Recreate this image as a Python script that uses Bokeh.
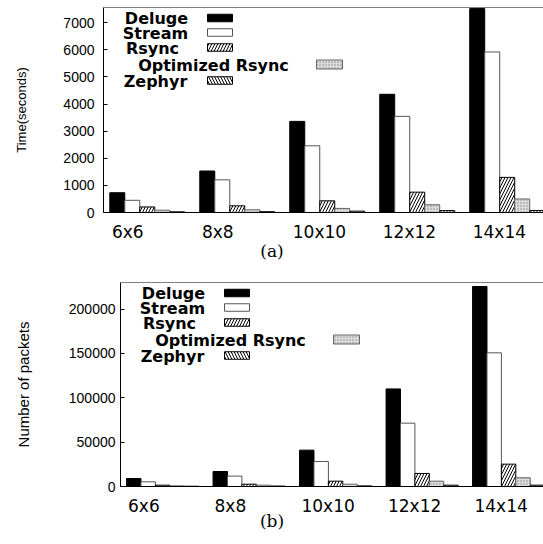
import math
from bokeh.plotting import figure
from bokeh.models import FixedTicker, Range1d, Span, BasicTickFormatter, Title
from bokeh.core.properties import value
from bokeh.embed import file_html
from bokeh.resources import INLINE

# ---------------- data ----------------
categories = ["6x6", "8x8", "10x10", "12x12", "14x14"]
series_names = ["Deluge", "Stream", "Rsync", "Optimized Rsync", "Zephyr"]

# (a) completion time, seconds
deluge_time = [730, 1530, 3360, 4360, 7520]
stream_time = [450, 1205, 2460, 3545, 5920]
rsync_time = [205, 247, 430, 750, 1295]
opt_rsync_time = [85, 100, 150, 285, 500]
zephyr_time = [25, 30, 50, 70, 75]
time_ticks = [0, 1000, 2000, 3000, 4000, 5000, 6000, 7000]

# (b) number of packets
deluge_pkts = [9000, 16900, 41000, 110000, 225500]
stream_pkts = [5300, 11700, 28200, 71400, 150700]
rsync_pkts = [1500, 2600, 6000, 14700, 25200]
opt_rsync_pkts = [750, 1500, 2600, 6000, 9800]
zephyr_pkts = [300, 500, 700, 1500, 1500]
pkt_ticks = [0, 50000, 100000, 150000, 200000]

# ---------------- styles ----------------
styles = [
    dict(fill_color="black", line_color="black"),
    dict(fill_color="white", line_color="#555555"),
    dict(fill_color="white", line_color="black", hatch_pattern="/",
         hatch_color="black", hatch_scale=6, hatch_weight=1),
    dict(fill_color="#dcdcdc", line_color="#666666", hatch_pattern=".",
         hatch_color="#8a8a8a", hatch_scale=3),
    dict(fill_color="white", line_color="black", hatch_pattern="\\",
         hatch_color="black", hatch_scale=6, hatch_weight=1),
]

X0, X1 = -0.07, 4.82


def make_chart(series, y_max, ticks, ytitle, ytitle_size, ytitle_standoff,
               caption, cap_width, cap_standoff, fig_h, b_top, b_bottom,
               b_left, standoff):
    p = figure(width=543, height=fig_h, output_backend="svg",
               toolbar_location=None,
               x_range=Range1d(X0, X1), y_range=Range1d(0, y_max),
               min_border_left=b_left, min_border_right=0,
               min_border_top=b_top, min_border_bottom=b_bottom)
    p.outline_line_color = None
    p.background_fill_color = "white"
    p.border_fill_color = "white"
    p.grid.visible = False

    frame_w = 543 - b_left
    frame_h = fig_h - b_top - b_bottom

    def fx(px):
        return X0 + px / frame_w * (X1 - X0)

    def fy(py):
        return y_max * (1 - py / frame_h)

    n = len(series)
    bw = 1.0 / (n + 1)
    for k, (vals, st) in enumerate(zip(series, styles)):
        xs = [i + (k + 0.5) * bw for i in range(len(categories))]
        p.vbar(x=xs, top=vals, bottom=0, width=bw, line_width=1, **st)

    # legend (text left, swatch right)
    rows = [10.5, 25, 40, 57, 73]
    centers = [53, 52, 49, 110, 52]
    for k, name in enumerate(series_names):
        p.text(x=[fx(centers[k])], y=[fy(rows[k] + 0.5)], text=[name],
               text_font=value("DejaVu Sans"), text_font_style="bold",
               text_font_size="16px", text_align="center",
               text_baseline="middle", text_color="black")
        bx0 = 213 if k == 3 else 104
        bwp = 26 if k == 3 else 25
        bh = 9 if k == 3 else 7.5
        p.quad(left=[fx(bx0)], right=[fx(bx0 + bwp)],
               top=[fy(rows[k] - bh / 2)], bottom=[fy(rows[k] + bh / 2)],
               line_width=1, **styles[k])

    # top border of frame
    p.add_layout(Span(location=y_max, dimension="width",
                      line_color="black", line_width=1))

    # y axis
    ya = p.yaxis[0]
    ya.ticker = FixedTicker(ticks=ticks)
    ya.formatter = BasicTickFormatter(use_scientific=False)
    ya.major_tick_in = 4
    ya.major_tick_out = 0
    ya.minor_tick_line_color = None
    ya.axis_line_color = "black"
    ya.major_tick_line_color = "black"
    ya.major_label_standoff = standoff
    ya.major_label_text_font = "Liberation Sans"
    ya.major_label_text_font_size = "14px"
    ya.major_label_text_color = "black"
    ya.axis_label = ytitle
    ya.axis_label_standoff = ytitle_standoff
    ya.axis_label_text_font = "Liberation Sans"
    ya.axis_label_text_font_size = ytitle_size
    ya.axis_label_text_font_style = "normal"
    ya.axis_label_text_color = "black"

    # x axis: label centred where a left-aligned label at the group start sits
    xa = p.xaxis[0]
    label_pos = [i + 0.005 + 0.065 * len(c) for i, c in enumerate(categories)]
    xa.ticker = FixedTicker(ticks=label_pos)
    xa.major_label_overrides = {t: c for t, c in zip(label_pos, categories)}
    xa.major_tick_line_color = None
    xa.minor_tick_line_color = None
    xa.axis_line_color = "black"
    xa.major_label_standoff = 3
    xa.major_label_text_font = "DejaVu Sans"
    xa.major_label_text_font_size = "17px"
    xa.major_label_text_color = "black"

    # caption centred on the page
    cap_offset = 271.5 - cap_width / 2 - b_left
    p.add_layout(Title(text=caption, align="left", offset=cap_offset,
                       vertical_align="top", standoff=cap_standoff,
                       text_font="DejaVu Serif", text_font_size="17px",
                       text_font_style="normal", text_color="black"), "below")
    return p


pa = make_chart([deluge_time, stream_time, rsync_time, opt_rsync_time, zephyr_time],
                7560, time_ticks, "Time(seconds)", "13px", 31,
                "(a)", 23.4, -8, 278, 7, 66, 103, 9)
pb = make_chart([deluge_pkts, stream_pkts, rsync_pkts, opt_rsync_pkts, zephyr_pkts],
                230000, pkt_ticks, "Number of packets", "15px", 34,
                "(b)", 24.1, -16, 266, 4, 58, 120, 5)

open("out.html", "w").write(file_html([pa, pb], INLINE))
